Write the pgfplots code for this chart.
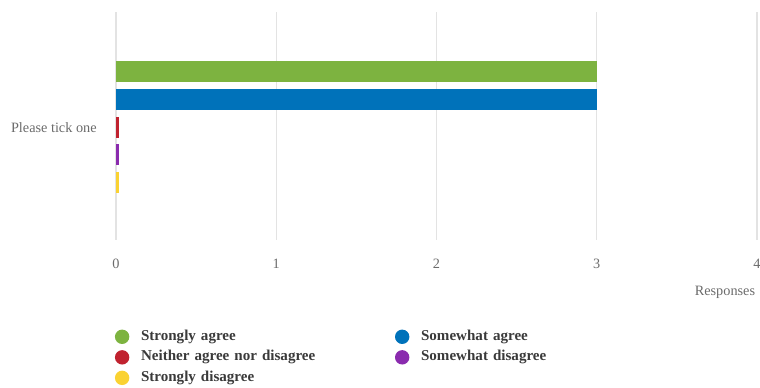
\documentclass[border=0pt]{standalone}
\usepackage{pgfplots}
\pgfplotsset{compat=1.18}
\usepackage{fontspec}
\setmainfont{Liberation Serif}
\definecolor{cgreen}{HTML}{7DB340}
\definecolor{cblue}{HTML}{0072BA}
\definecolor{cred}{HTML}{C0222F}
\definecolor{cpurple}{HTML}{8A2BAE}
\definecolor{cyellow}{HTML}{FAD232}
\definecolor{cgrid}{HTML}{E3E3E3}
\definecolor{ctext}{HTML}{6B6B6B}
\definecolor{clegend}{HTML}{3A3A3A}
\begin{document}
\begin{tikzpicture}
\path[use as bounding box] (0,0) rectangle (570pt,291pt);
\begin{axis}[
  at={(87pt,111pt)}, anchor=south west,
  scale only axis, width=480.75pt, height=171pt,
  xmin=0, xmax=4, ymin=-240, ymax=-12,
  xtick={0,1,2,3,4},
  ytick={-127.2}, yticklabels={Please tick one},
  /pgf/number format/assume math mode=true,
  axis line style={draw=none},
  major tick length=0pt,
  xmajorgrids, major grid style={cgrid, line width=0.8pt},
  tick label style={font=\fontsize{10.7}{12}\selectfont, text=ctext},
  xticklabel style={yshift=-11pt},
  yticklabel style={xshift=-11pt},
  xlabel={Responses},
  xlabel style={at={(axis description cs:0.95,0)}, anchor=center, yshift=-39pt, font=\fontsize{10.7}{12}\selectfont, text=ctext},
  xbar, bar width=21, bar shift=0pt,
  legend columns=2,
  legend image code/.code={\fill[#1] (4.5pt,0pt) circle (5.4pt);},
  legend style={at={(axis description cs:0,0)}, anchor=north west, xshift=-4pt, yshift=-65pt, draw=none, fill=none,
    font=\bfseries\fontsize{11.3}{12}\selectfont, text=clegend,
    row sep=4.6pt,
    /tikz/every odd column/.append style={column sep=8.75pt},
    nodes={text width=190.5pt, align=left, inner xsep=0pt, inner ysep=0pt, text height=8pt, text depth=2.5pt}},
]
\addplot[fill=cgreen, draw=none] coordinates {(3,-72.0)};
\addlegendentry{Strongly agree}
\addplot[fill=cblue, draw=none] coordinates {(3,-99.7)};
\addlegendentry{Somewhat agree}
\addplot[fill=cred, draw=none] coordinates {(0.02,-127.2)};
\addlegendentry{Neither agree nor disagree}
\addplot[fill=cpurple, draw=none] coordinates {(0.02,-154.8)};
\addlegendentry{Somewhat disagree}
\addplot[fill=cyellow, draw=none] coordinates {(0.02,-182.5)};
\addlegendentry{Strongly disagree}
\end{axis}
\end{tikzpicture}
\end{document}
